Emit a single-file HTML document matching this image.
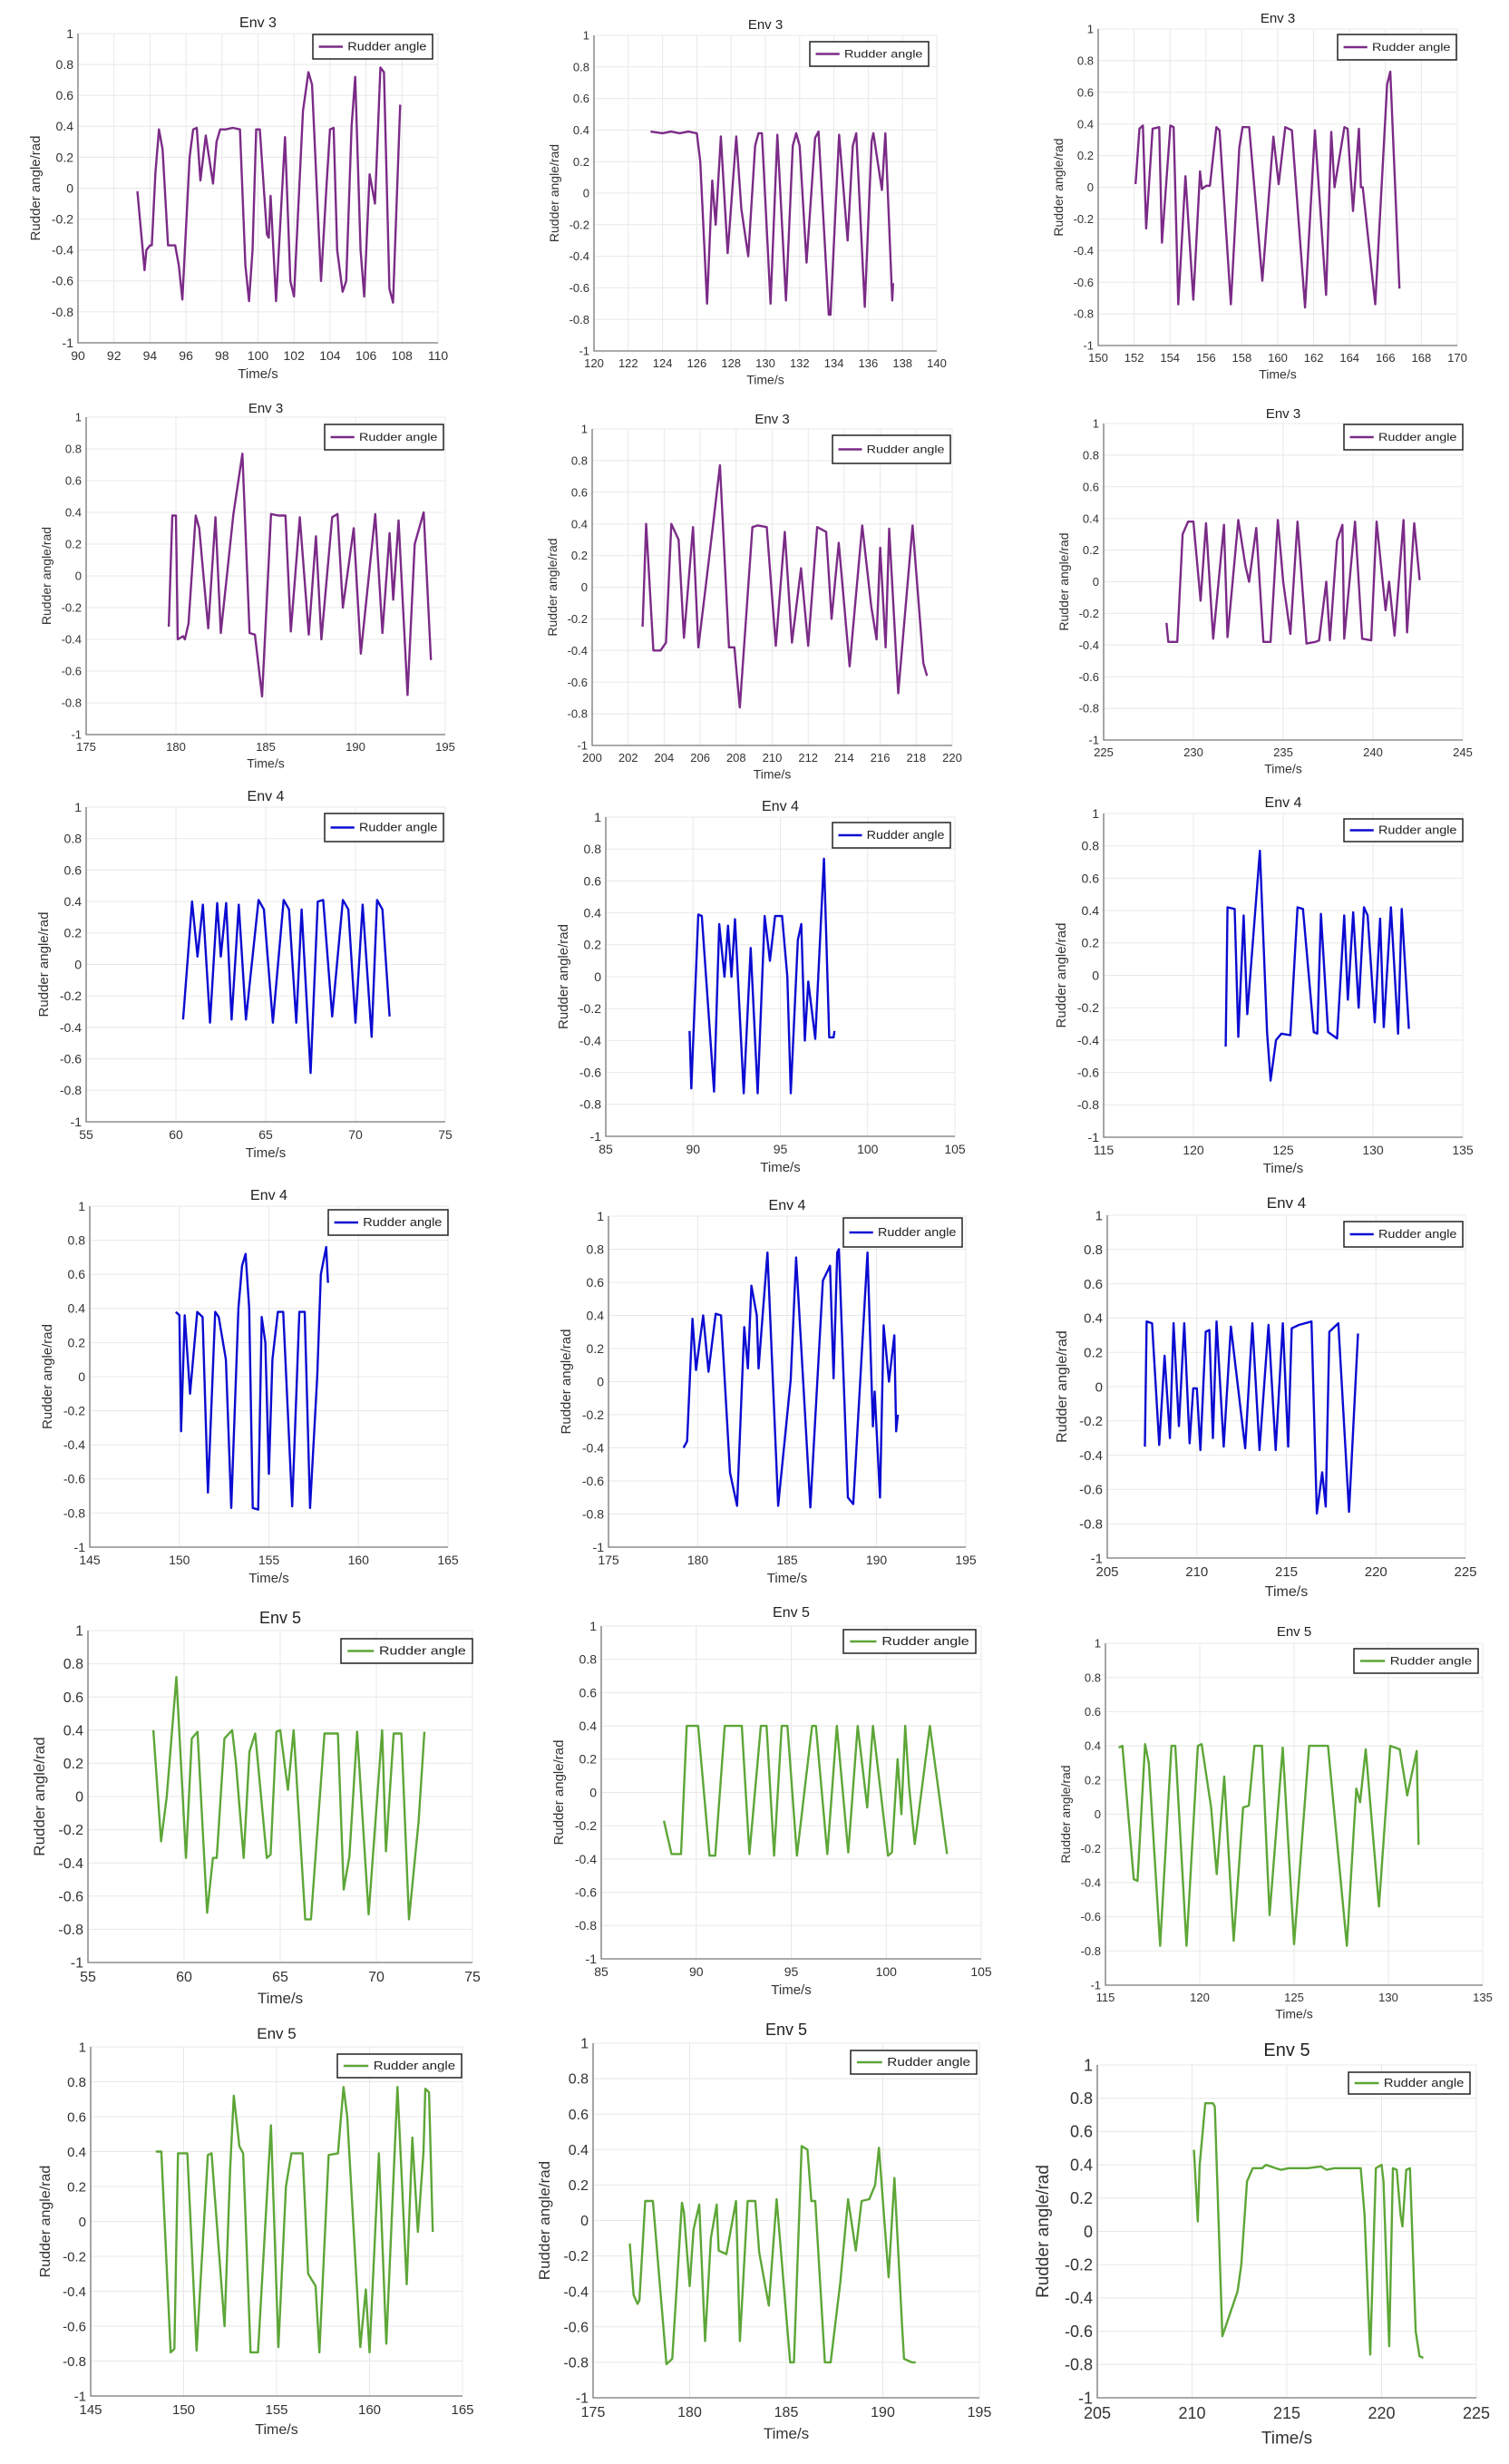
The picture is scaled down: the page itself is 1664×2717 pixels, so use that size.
<!DOCTYPE html>
<html><head><meta charset="utf-8"><style>
html,body{margin:0;padding:0;background:#fff;}
svg{display:block;font-family:"Liberation Sans",Arial,sans-serif;}
</style></head><body>
<svg id="fig" width="1664" height="2717" viewBox="0 0 1664 2717" xmlns="http://www.w3.org/2000/svg"></svg>
<script>
const yTicks=[-1,-0.8,-0.6,-0.4,-0.2,0,0.2,0.4,0.6,0.8,1];
const yTickLabels=["-1","-0.8","-0.6","-0.4","-0.2","0","0.2","0.4","0.6","0.8","1"];
const titles=["Env 3","Env 3","Env 3","Env 3","Env 3","Env 3","Env 4","Env 4","Env 4","Env 4","Env 4","Env 4","Env 5","Env 5","Env 5","Env 5","Env 5","Env 5"];
const xMins=[90,120,150,175,200,225,55,85,115,145,175,205,55,85,115,145,175,205];
const xMaxs=[110,140,170,195,220,245,75,105,135,165,195,225,75,105,135,165,195,225];
const xSteps=[2,2,2,5,2,5,5,5,5,5,5,5,5,5,5,5,5,5];

const p1Time=[93.3,93.7,93.8,94.0,94.1,94.3,94.5,94.7,95.0,95.4,95.6,95.8,96.2,96.4,96.6,96.8,97.1,97.5,97.7,97.9,98.2,98.6,99.0,99.3,99.5,99.7,99.9,100.1,100.5,100.6,100.7,101.0,101.5,101.8,102.0,102.5,102.8,103.0,103.5,103.8,104.0,104.2,104.4,104.7,104.9,105.2,105.4,105.7,105.9,106.2,106.5,106.8,107.0,107.3,107.5,107.9];
const p1Angle=[-0.02,-0.53,-0.4,-0.37,-0.37,0.1,0.38,0.25,-0.37,-0.37,-0.5,-0.72,0.2,0.38,0.39,0.05,0.34,0.03,0.3,0.38,0.38,0.39,0.38,-0.5,-0.73,-0.4,0.38,0.38,-0.3,-0.32,-0.05,-0.73,0.33,-0.6,-0.7,0.5,0.75,0.67,-0.6,0.0,0.38,0.39,-0.4,-0.67,-0.6,0.4,0.72,-0.4,-0.7,0.09,-0.1,0.78,0.75,-0.65,-0.74,0.54];
const p2Time=[123.3,124.0,124.5,125.0,125.5,126.0,126.2,126.6,126.9,127.1,127.4,127.8,128.3,128.6,129.0,129.4,129.6,129.8,130.3,130.7,131.2,131.6,131.8,132.0,132.4,132.9,133.1,133.7,133.8,134.3,134.8,135.1,135.3,135.8,136.2,136.3,136.8,137.0,137.4,137.45];
const p2Angle=[0.39,0.38,0.39,0.38,0.39,0.38,0.2,-0.7,0.08,-0.2,0.36,-0.38,0.36,-0.1,-0.4,0.3,0.38,0.38,-0.7,0.37,-0.68,0.3,0.38,0.3,-0.44,0.35,0.39,-0.77,-0.77,0.37,-0.3,0.3,0.38,-0.72,0.33,0.38,0.02,0.38,-0.68,-0.57];
const p3Time=[152.08,152.3,152.49,152.67,153.03,153.4,153.55,154.02,154.2,154.46,154.86,155.3,155.67,155.78,156.03,156.22,156.58,156.76,157.39,157.86,158.04,158.41,159.14,159.76,160.05,160.42,160.79,161.52,162.07,162.69,162.98,163.16,163.71,163.89,164.19,164.52,164.63,164.73,165.43,166.09,166.27,166.78];
const p3Angle=[0.02,0.37,0.39,-0.26,0.37,0.38,-0.35,0.39,0.38,-0.74,0.07,-0.71,0.1,-0.01,0.01,0.01,0.38,0.36,-0.74,0.25,0.38,0.38,-0.59,0.32,0.02,0.38,0.36,-0.76,0.36,-0.68,0.35,0.0,0.38,0.37,-0.15,0.37,0.0,0.0,-0.74,0.65,0.73,-0.64];
const p4Time=[179.6,179.8,180.0,180.1,180.4,180.5,180.7,181.1,181.3,181.8,182.2,182.5,183.2,183.7,184.1,184.4,184.8,185.3,185.7,186.1,186.4,186.9,187.4,187.8,188.1,188.7,189.0,189.3,189.9,190.3,191.1,191.5,191.9,192.1,192.4,192.9,193.3,193.8,194.2];
const p4Angle=[-0.32,0.38,0.38,-0.4,-0.38,-0.4,-0.3,0.38,0.3,-0.33,0.37,-0.36,0.39,0.77,-0.36,-0.37,-0.76,0.39,0.38,0.38,-0.35,0.37,-0.37,0.25,-0.4,0.37,0.39,-0.2,0.3,-0.49,0.39,-0.36,0.27,-0.15,0.35,-0.75,0.2,0.4,-0.53];
const p5Time=[202.8,203.0,203.4,203.8,204.1,204.4,204.8,205.1,205.6,205.9,206.3,206.7,207.1,207.6,207.9,208.2,208.9,209.2,209.7,210.2,210.7,211.1,211.6,212.0,212.5,213.0,213.3,213.7,214.3,215.0,215.5,215.8,216.0,216.3,216.5,217.0,217.8,218.4,218.6];
const p5Angle=[-0.25,0.4,-0.4,-0.4,-0.35,0.4,0.3,-0.32,0.38,-0.38,0.0,0.38,0.77,-0.38,-0.38,-0.76,0.38,0.39,0.38,-0.37,0.35,-0.35,0.12,-0.37,0.38,0.35,-0.2,0.28,-0.5,0.39,-0.12,-0.33,0.25,-0.38,0.37,-0.67,0.39,-0.48,-0.56];
const p6Time=[228.5,228.6,229.1,229.4,229.7,230.0,230.4,230.7,231.1,231.7,231.9,232.5,232.9,233.1,233.5,233.9,234.3,234.7,235.0,235.4,235.8,236.3,236.8,237.0,237.4,237.6,238.0,238.3,238.4,239.0,239.4,239.9,240.2,240.7,240.9,241.2,241.7,241.9,242.3,242.6];
const p6Angle=[-0.26,-0.38,-0.38,0.3,0.38,0.38,-0.12,0.37,-0.36,0.36,-0.35,0.39,0.1,0.0,0.34,-0.38,-0.38,0.39,0.0,-0.33,0.38,-0.39,-0.38,-0.37,0.0,-0.37,0.26,0.36,-0.36,0.38,-0.36,-0.37,0.38,-0.18,0.0,-0.34,0.39,-0.32,0.37,0.01];
const p7Time=[60.4,60.9,61.2,61.5,61.9,62.3,62.5,62.8,63.1,63.5,63.9,64.6,64.9,65.4,66.0,66.3,66.7,67.0,67.5,67.9,68.2,68.7,69.3,69.6,70.0,70.4,70.9,71.2,71.5,71.9];
const p7Angle=[-0.35,0.4,0.05,0.38,-0.37,0.39,0.05,0.39,-0.35,0.38,-0.35,0.41,0.35,-0.37,0.41,0.35,-0.37,0.35,-0.69,0.4,0.41,-0.33,0.41,0.35,-0.37,0.38,-0.46,0.41,0.35,-0.33];
const p8Time=[89.8,89.9,90.3,90.5,91.2,91.5,91.8,92.0,92.2,92.4,92.9,93.3,93.7,94.1,94.4,94.7,95.1,95.4,95.6,96.0,96.2,96.4,96.6,97.0,97.5,97.8,98.05,98.1];
const p8Angle=[-0.34,-0.7,0.39,0.38,-0.72,0.33,0.0,0.32,0.0,0.36,-0.73,0.18,-0.73,0.38,0.1,0.38,0.38,0.0,-0.73,0.23,0.33,-0.4,-0.03,-0.39,0.74,-0.38,-0.38,-0.34];
const p9Time=[121.8,121.9,122.3,122.5,122.8,123.0,123.7,124.1,124.3,124.6,124.9,125.4,125.8,126.1,126.7,126.9,127.1,127.5,128.0,128.4,128.6,128.9,129.2,129.5,129.7,130.1,130.4,130.6,131.0,131.4,131.6,132.0];
const p9Angle=[-0.44,0.42,0.41,-0.38,0.37,-0.24,0.77,-0.35,-0.65,-0.4,-0.36,-0.37,0.42,0.41,-0.35,-0.36,0.38,-0.35,-0.39,0.37,-0.15,0.39,-0.2,0.42,0.37,-0.29,0.35,-0.32,0.42,-0.36,0.41,-0.33];
const p10Time=[149.8,150.0,150.1,150.3,150.6,151.0,151.3,151.6,152.0,152.2,152.6,152.9,153.3,153.5,153.7,153.9,154.1,154.4,154.6,154.8,155.0,155.2,155.5,155.8,156.3,156.7,157.0,157.3,157.7,157.9,158.2,158.3];
const p10Angle=[0.38,0.36,-0.32,0.36,-0.1,0.38,0.35,-0.68,0.38,0.35,0.1,-0.77,0.4,0.65,0.72,0.4,-0.77,-0.78,0.35,0.2,-0.57,0.1,0.38,0.38,-0.76,0.38,0.38,-0.77,0.0,0.6,0.76,0.55];
const p11Time=[179.2,179.4,179.7,179.9,180.3,180.6,181.0,181.3,181.8,182.2,182.6,182.8,183.0,183.3,183.4,183.9,184.5,185.2,185.5,186.3,187.0,187.4,187.6,187.8,187.9,188.4,188.7,189.5,189.8,189.9,190.2,190.4,190.7,191.0,191.1,191.2];
const p11Angle=[-0.4,-0.36,0.38,0.07,0.4,0.06,0.41,0.4,-0.55,-0.75,0.33,0.08,0.58,0.4,0.08,0.78,-0.75,0.01,0.75,-0.76,0.61,0.7,0.02,0.78,0.8,-0.7,-0.74,0.78,-0.27,-0.06,-0.7,0.34,0.0,0.28,-0.3,-0.2];
const p12Time=[207.1,207.2,207.5,207.9,208.2,208.5,208.7,209.0,209.3,209.6,209.8,210.0,210.2,210.5,210.7,210.9,211.1,211.5,211.9,212.7,213.1,213.5,214.0,214.4,214.8,215.1,215.3,215.7,216.4,216.7,217.0,217.2,217.4,217.9,218.5,219.0];
const p12Angle=[-0.35,0.38,0.37,-0.34,0.18,-0.3,0.37,-0.23,0.37,-0.33,-0.01,-0.01,-0.37,0.32,0.33,-0.3,0.38,-0.35,0.35,-0.36,0.37,-0.37,0.36,-0.37,0.37,-0.35,0.34,0.36,0.38,-0.74,-0.5,-0.7,0.32,0.37,-0.73,0.31];
const p13Time=[58.4,58.8,59.1,59.6,60.1,60.4,60.7,61.2,61.5,61.7,62.1,62.5,62.7,63.1,63.4,63.7,64.3,64.5,64.8,65.0,65.4,65.7,66.3,66.6,67.3,68.0,68.3,68.6,69.0,69.6,70.3,70.5,70.9,71.3,71.7,72.2,72.5];
const p13Angle=[0.4,-0.27,0.0,0.72,-0.37,0.35,0.39,-0.7,-0.37,-0.37,0.35,0.4,0.2,-0.37,0.27,0.38,-0.37,-0.35,0.39,0.4,0.04,0.4,-0.74,-0.74,0.38,0.38,-0.56,-0.36,0.39,-0.71,0.4,-0.33,0.38,0.38,-0.74,-0.15,0.39];
const p14Time=[88.3,88.7,89.2,89.5,90.1,90.7,91.0,91.5,92.4,92.8,93.4,93.7,94.1,94.5,94.8,95.3,96.1,96.3,96.9,97.4,98.0,98.5,99.0,99.3,100.1,100.3,100.6,100.8,101.0,101.2,101.5,102.3,103.2];
const p14Angle=[-0.17,-0.37,-0.37,0.4,0.4,-0.38,-0.38,0.4,0.4,-0.37,0.4,0.4,-0.38,0.4,0.4,-0.38,0.4,0.4,-0.37,0.4,-0.36,0.4,-0.09,0.4,-0.38,-0.36,0.2,-0.13,0.4,0.04,-0.31,0.4,-0.37];
const p15Time=[115.7,115.9,116.5,116.7,117.1,117.3,117.9,118.5,118.7,119.3,119.9,120.1,120.6,120.9,121.3,121.8,122.3,122.6,122.9,123.3,123.7,124.4,125.0,125.8,126.8,127.8,128.3,128.5,128.8,129.5,130.1,130.6,131.0,131.5,131.6];
const p15Angle=[0.39,0.4,-0.38,-0.39,0.41,0.3,-0.77,0.4,0.4,-0.77,0.4,0.41,0.04,-0.35,0.22,-0.74,0.04,0.05,0.4,0.4,-0.59,0.39,-0.76,0.4,0.4,-0.77,0.15,0.07,0.38,-0.54,0.4,0.38,0.11,0.37,-0.18];
const p16Time=[148.5,148.8,149.3,149.5,149.7,150.2,150.7,151.3,151.5,152.2,152.5,152.7,153.0,153.2,153.6,154.0,154.7,155.1,155.5,155.8,156.4,156.7,157.1,157.3,157.8,158.3,158.6,158.8,159.5,159.8,160.0,160.5,160.9,161.5,162.0,162.3,162.6,162.9,163.0,163.2,163.4];
const p16Angle=[0.4,0.4,-0.75,-0.73,0.39,0.39,-0.74,0.38,0.39,-0.6,0.3,0.72,0.43,0.39,-0.75,-0.75,0.55,-0.72,0.2,0.39,0.39,-0.3,-0.37,-0.75,0.38,0.39,0.77,0.6,-0.72,-0.39,-0.75,0.39,-0.7,0.77,-0.36,0.48,-0.06,0.4,0.76,0.74,-0.06];
const p17Time=[176.9,177.1,177.3,177.4,177.7,178.1,178.8,179.1,179.6,179.7,180.0,180.2,180.5,180.8,181.1,181.4,181.5,181.9,182.4,182.6,183.0,183.4,183.6,184.1,184.5,185.2,185.4,185.8,186.1,186.3,186.5,187.0,187.3,187.8,188.2,188.6,188.9,189.3,189.6,189.8,190.3,190.6,191.0,191.1,191.5,191.7];
const p17Angle=[-0.13,-0.42,-0.47,-0.45,0.11,0.11,-0.81,-0.78,0.1,0.05,-0.37,-0.05,0.09,-0.68,-0.1,0.09,-0.17,-0.19,0.11,-0.68,0.11,0.11,-0.18,-0.48,0.12,-0.8,-0.8,0.42,0.4,0.11,0.11,-0.8,-0.8,-0.35,0.12,-0.17,0.11,0.12,0.2,0.41,-0.32,0.24,-0.6,-0.78,-0.8,-0.8];
const p18Time=[210.1,210.3,210.4,210.7,211.1,211.2,211.6,212.4,212.6,212.9,213.2,213.7,213.9,214.4,214.7,215.1,215.4,216.1,216.8,217.1,217.5,218.0,218.4,218.9,219.1,219.4,219.7,220.0,220.1,220.4,220.6,220.8,221.0,221.1,221.3,221.5,221.8,222.0,222.2];
const p18Angle=[0.49,0.06,0.4,0.77,0.77,0.75,-0.63,-0.36,-0.2,0.3,0.38,0.38,0.4,0.38,0.37,0.38,0.38,0.38,0.39,0.37,0.38,0.38,0.38,0.38,0.1,-0.74,0.38,0.4,0.3,-0.69,0.38,0.37,0.1,0.03,0.37,0.38,-0.6,-0.75,-0.76];

const times=[p1Time,p2Time,p3Time,p4Time,p5Time,p6Time,p7Time,p8Time,p9Time,p10Time,p11Time,p12Time,p13Time,p14Time,p15Time,p16Time,p17Time,p18Time];
const angles=[p1Angle,p2Angle,p3Angle,p4Angle,p5Angle,p6Angle,p7Angle,p8Angle,p9Angle,p10Angle,p11Angle,p12Angle,p13Angle,p14Angle,p15Angle,p16Angle,p17Angle,p18Angle];

// layout (pixels): [left, top, right, bottom, titleY, legL, legT, legR, legB, fontSize]
const layout=[
[86,37,483,378,25,345,38,477,65,14],
[655,39,1033,387,27,893,46,1024,73,13],
[1211,32,1607,381,20,1475,38,1606,66,13],
[95,460,491,810,450,358,468,489,496,13],
[653,473,1050,822,462,918,480,1048,511,13],
[1217,467,1613,816,456,1482,468,1613,496,13],
[95,890,491,1237,878,358,897,489,928,14],
[668,901,1053,1253,889,918,907,1048,935,14],
[1217,897,1613,1254,885,1482,903,1613,928,14],
[99,1330,494,1706,1318,362,1334,494,1362,14],
[671,1341,1065,1706,1329,930,1343,1061,1375,14],
[1221,1340,1616,1718,1327,1482,1347,1613,1375,15],
[97,1798,521,2164,1785,376,1807,521,1834,16],
[663,1793,1082,2160,1778,930,1797,1076,1823,14],
[1219,1812,1635,2189,1799,1493,1818,1630,1845,13],
[100,2257,510,2642,2243,372,2265,509,2291,15],
[654,2253,1080,2644,2239,938,2261,1077,2287,16],
[1210,2277,1628,2644,2262,1487,2285,1621,2309,18]
];
const colors=["#7b2b87","#7b2b87","#7b2b87","#7b2b87","#7b2b87","#7b2b87","#0b0bd2","#0b0bd2","#0b0bd2","#0b0bd2","#0b0bd2","#0b0bd2","#5da637","#5da637","#5da637","#5da637","#5da637","#5da637"];

const NS="http://www.w3.org/2000/svg";
const fig=document.getElementById('fig');
function mk(tag,attrs,parent){const e=document.createElementNS(NS,tag);for(const k in attrs)e.setAttribute(k,attrs[k]);parent.appendChild(e);return e;}

for(let i=0;i<18;i++){
  const [L,T,R,B,tY,lL,lT,lR,lB,fs]=layout[i];
  const g=mk('g',{},fig);
  
  
  const xs=v=>L+(v-xMins[i])/(xMaxs[i]-xMins[i])*(R-L);
  const ys=v=>B-(v+1)/2*(B-T);
  // plot background
  const bg=mk('rect',{x:L,y:T,width:R-L,height:B-T,fill:'#fff',stroke:'#e2e2e2','stroke-width':1},g);
  
  
  // grid + y ticks
  for(let k=0;k<yTicks.length;k++){
    const y=ys(yTicks[k]);
    const gl=mk('line',{x1:L,x2:R,y1:y,y2:y,stroke:'#e8e8e8','stroke-width':1},g);
    
    
    const t=mk('text',{x:L-5,y:y+fs*0.35,'text-anchor':'end','font-size':fs,fill:'#333'},g);
    
    
    t.textContent=yTickLabels[k];
  }
  for(let v=xMins[i];v<=xMaxs[i]+1e-9;v+=xSteps[i]){
    const x=xs(v);
    const gl=mk('line',{x1:x,x2:x,y1:T,y2:B,stroke:'#e8e8e8','stroke-width':1},g);
    
    
    const t=mk('text',{x:x,y:B+fs+5,'text-anchor':'middle','font-size':fs,fill:'#333'},g);
    
    
    t.textContent=String(v);
  }
  const ax=mk('path',{d:`M${L},${T} L${L},${B} L${R},${B}`,fill:'none',stroke:'#777','stroke-width':1.3},g);
  
  
  // series
  const pts=times[i].map((t,k)=>xs(t).toFixed(1)+','+ys(angles[i][k]).toFixed(1)).join(' ');
  const pl=mk('polyline',{points:pts,fill:'none',stroke:colors[i],'stroke-width':2.4,'stroke-linejoin':'round'},g);
  
  
  // title
  const tt=mk('text',{x:(L+R)/2,y:tY+5,'text-anchor':'middle','font-size':fs+2,fill:'#222'},g);
  
  
  tt.textContent=titles[i];
  // axis labels
  const xl=mk('text',{x:(L+R)/2,y:B+fs*2.8,'text-anchor':'middle','font-size':fs+1,fill:'#333'},g);
  
  
  xl.textContent='Time/s';
  const yc=(T+B)/2, yx=L-fs*3.0;
  const yl=mk('text',{x:yx,y:yc,'text-anchor':'middle','font-size':fs+1,fill:'#333',transform:`rotate(-90 ${yx} ${yc})`},g);
  
  
  yl.textContent='Rudder angle/rad';
  // legend
  const lg=mk('g',{},g);
  
  
  mk('rect',{x:lL,y:lT,width:lR-lL,height:lB-lT,fill:'#fff',stroke:'#222','stroke-width':1.5},lg);
  const my=(lT+lB)/2, lw=(lR-lL);
  mk('line',{x1:lL+lw*0.05,x2:lL+lw*0.25,y1:my,y2:my,stroke:colors[i],'stroke-width':2.5},lg);
  const lt=mk('text',{x:lL+lw*0.29,y:my+4,'font-size':Math.min(13,fs-1),fill:'#222',textLength:lw*0.66,lengthAdjust:'spacingAndGlyphs'},lg);
  
  
  lt.textContent='Rudder angle';
}
</script>
</body></html>
